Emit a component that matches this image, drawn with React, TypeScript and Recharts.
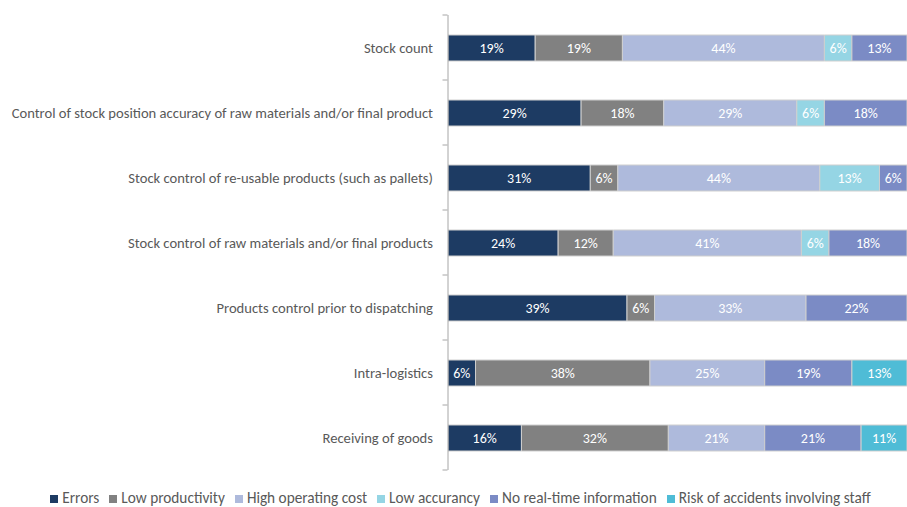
import React from "react";
import { BarChart, Bar, XAxis, YAxis, Legend, LabelList } from "recharts";

// Survey categories, listed top to bottom
const categories = [
  "Stock count",
  "Control of stock position accuracy of raw materials and/or final product",
  "Stock control of re-usable products (such as pallets)",
  "Stock control of raw materials and/or final products",
  "Products control prior to dispatching",
  "Intra-logistics",
  "Receiving of goods",
];

// Share of answers per problem type (%)
const errors = [19, 29, 31, 24, 39, 6, 16];
const lowProductivity = [19, 18, 6, 12, 6, 38, 32];
const highOperatingCost = [44, 29, 44, 41, 33, 25, 21];
const lowAccuracy = [6, 6, 13, 6, null, null, null];
const noRealTimeInfo = [13, 18, 6, 18, 22, 19, 21];
const accidentRisk = [null, null, null, null, null, 13, 11];

const seriesDefs = [
  { key: "errors", name: "Errors", color: "#1d3b63", values: errors },
  { key: "lowProductivity", name: "Low productivity", color: "#818181", values: lowProductivity },
  { key: "highOperatingCost", name: "High operating cost", color: "#aebadc", values: highOperatingCost },
  { key: "lowAccuracy", name: "Low accurancy", color: "#95d5e4", values: lowAccuracy },
  { key: "noRealTimeInfo", name: "No real-time information", color: "#7b8bc5", values: noRealTimeInfo },
  { key: "accidentRisk", name: "Risk of accidents involving staff", color: "#4fbcd6", values: accidentRisk },
];

const data = categories.map((name, i) => {
  const row: Record<string, string | number | null> = { name };
  seriesDefs.forEach((s) => {
    row[s.key] = s.values[i];
  });
  return row;
});

const WIDTH = 907;
const HEIGHT = 507;
const MARGIN = { top: 15, right: 0, bottom: 17, left: 0 };
const LEGEND_HEIGHT = 20;
const LEGEND_LEFT = 24;
const AXIS_WIDTH = 448;
const PLOT_HEIGHT = HEIGHT - MARGIN.top - MARGIN.bottom - LEGEND_HEIGHT;
const BAND = PLOT_HEIGHT / categories.length;

const FONT = "Carlito, Calibri, Lato, sans-serif";
const TEXT_COLOR = "#595959";
const AXIS_COLOR = "#a6a6a6";

const CategoryTick = (props: any) => {
  const { x, y, payload, index } = props;
  const axisX = AXIS_WIDTH - 0.5;
  const last = index === categories.length - 1;
  return (
    <g>
      <line x1={axisX - 5} x2={axisX} y1={y - BAND / 2} y2={y - BAND / 2} stroke={AXIS_COLOR} />
      {last && (
        <line x1={axisX - 5} x2={axisX} y1={y + BAND / 2} y2={y + BAND / 2} stroke={AXIS_COLOR} />
      )}
      <text
        x={x - 7}
        y={y}
        dy="0.35em"
        textAnchor="end"
        fill={TEXT_COLOR}
        fontSize={14.6}
        fontFamily={FONT}
      >
        {payload.value}
      </text>
    </g>
  );
};

const pct = (v: any) => (v == null ? "" : `${v}%`);
const legendOrder = (item: any) => seriesDefs.findIndex((s) => s.name === item.value);

export default function App() {
  return (
    <div style={{ width: WIDTH, height: HEIGHT, background: "#fff" }}>
      <style>{"body{margin:0}"}</style>
      <BarChart
        width={WIDTH}
        height={HEIGHT}
        data={data}
        layout="vertical"
        margin={MARGIN}
        barSize={26}
        style={{ fontFamily: FONT }}
      >
        <XAxis type="number" domain={[0, 100]} allowDataOverflow hide />
        <YAxis
          type="category"
          dataKey="name"
          width={AXIS_WIDTH}
          axisLine={{ stroke: AXIS_COLOR }}
          tickLine={false}
          tick={<CategoryTick />}
          interval={0}
        />
        <Legend
          verticalAlign="bottom"
          iconType="square"
          iconSize={8}
          itemSorter={legendOrder}
          wrapperStyle={{
            top: 488,
            left: LEGEND_LEFT,
            width: WIDTH - LEGEND_LEFT,
            height: LEGEND_HEIGHT,
            fontSize: 15.3,
            fontFamily: FONT,
            color: TEXT_COLOR,
            lineHeight: "20px",
          }}
          formatter={(value: string) => <span style={{ color: TEXT_COLOR }}>{value}</span>}
        />
        {seriesDefs.map((s) => (
          <Bar
            key={s.key}
            dataKey={s.key}
            name={s.name}
            stackId="a"
            fill={s.color}
            stroke="#cfcfcf"
            strokeWidth={1}
            isAnimationActive={false}
          >
            <LabelList
              dataKey={s.key}
              position="center"
              formatter={pct}
              fill="#ffffff"
              fontSize={14}
              fontFamily={FONT}
            />
          </Bar>
        ))}
      </BarChart>
    </div>
  );
}
